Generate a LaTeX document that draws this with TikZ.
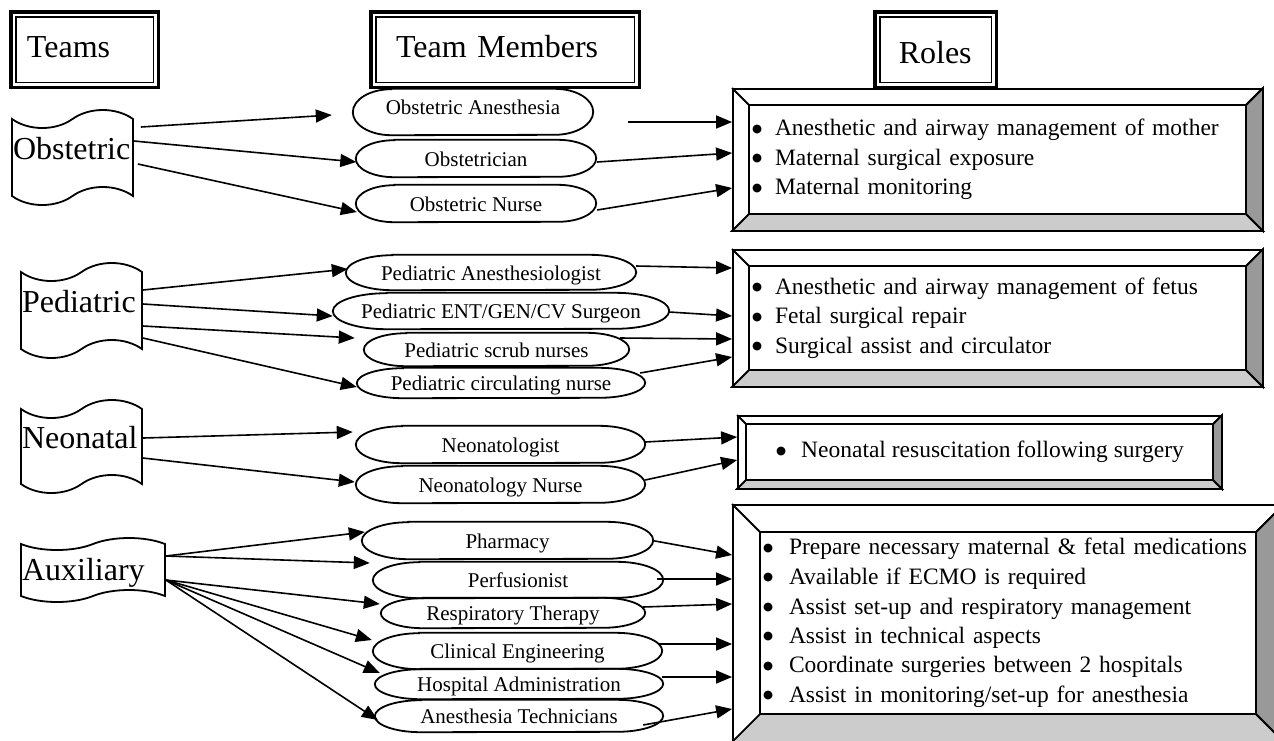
\documentclass[tikz,border=0pt]{standalone}
\usepackage{fontspec}
\setmainfont{Liberation Serif}
\newfontfamily\symfont{DejaVu Sans}
\usetikzlibrary{arrows.meta, calc, shapes.symbols}

\definecolor{bevellight}{HTML}{CCCCCC}
\definecolor{beveldark}{HTML}{999999}

\newcommand{\headfont}{\fontsize{32}{36}\selectfont}
\newcommand{\memberfont}{\fontsize{21}{24}\selectfont}
\newcommand{\rolefont}{\fontsize{23.5}{29.5}\selectfont}
\newcommand{\rolebullet}[1][24pt]{\makebox[#1][l]{\hspace{1pt}\raisebox{3.5pt}{\symfont\fontsize{11.5}{12}\selectfont ●}}}

\tikzset{
  arr/.style={-{Triangle[length=16pt,width=13pt]}, line width=1.6pt},
  outline/.style={line width=1.8pt},
  header/.style={draw, line width=3.5pt, minimum height=75.5pt, align=left,
    font=\headfont, text height=22pt, text depth=7pt,
    path picture={\draw[line width=1.5pt]
      ([shift={(5pt,5pt)}]path picture bounding box.south west) rectangle
      ([shift={(-5pt,-5pt)}]path picture bounding box.north east);}},
  team/.style={draw, shape=tape, line width=1.8pt, font=\headfont, align=left,
    inner xsep=1pt, text height=22pt, text depth=19pt, tape bend height=18pt},
  member/.style={inner sep=0pt, font=\memberfont, text height=15pt, text depth=0pt},
  role/.style={draw, line width=1.8pt, font=\rolefont, align=left, inner ysep=0pt},
}

% rounded "terminator" box: [options]{name}{centre}{width}{height}{text}
\newcommand{\member}[6][]{%
  \node[member, minimum width=#4pt, minimum height=#5pt, #1] (#2) at (#3) {#6};
  \draw[outline] ($(#2.north west)+({0.16*#4},0)$) -- ($(#2.north east)+({-0.16*#4},0)$)
    arc[start angle=90, end angle=-90, x radius={0.16*#4*1pt}, y radius={#5*0.5pt}]
    -- ($(#2.south west)+({0.16*#4},0)$)
    arc[start angle=270, end angle=90, x radius={0.16*#4*1pt}, y radius={#5*0.5pt}] -- cycle;
}

% bevel frame round a role box: {name}{bevel width}
\newcommand{\bevel}[2]{%
  \filldraw[outline, fill=bevellight] (#1.south west) -- (#1.south east)
    -- ($(#1.south east)+(-#2,-#2)$) -- ($(#1.south west)+(#2,-#2)$) -- cycle;
  \filldraw[outline, fill=beveldark] (#1.north east) -- (#1.south east)
    -- ($(#1.south east)+(-#2,-#2)$) -- ($(#1.north east)+(-#2,#2)$) -- cycle;
  \draw[outline] ($(#1.north west)+(#2,#2)$) rectangle ($(#1.south east)+(-#2,-#2)$);
  \draw[outline] (#1.north west) -- ++(#2,#2) (#1.north east) -- ++(-#2,#2);
}

\begin{document}
\begin{tikzpicture}[x=1pt, y=-1pt]
    \useasboundingbox (0,0) rectangle (1274,740);
    \fill[white] (0,0) rectangle (1274,740);
    \clip (0,0) rectangle (1274,740);

    % Column headings
    \node[header, text width=115pt, inner xsep=16.25pt] (teams) at (84.5,49.5) {Teams};
    \node[header, text width=218pt, inner xsep=25.25pt] (members) at (505,49.5) {Team Members};
    \node[header, text width=73.5pt, inner xsep=24pt, text height=27pt, text depth=0pt] (roles) at (935.5,49.5) {Roles};

    % Teams
    \node[team, text width=119pt, minimum height=95pt] (ob) at (72.5,157.5) {Obstetric};
    \node[team, text width=119pt, minimum height=95pt] (ped) at (81.5,310.5) {Pediatric};
    \node[team, text width=119pt, minimum height=93pt] (neo) at (81.5,446.5) {Neonatal};
    \node[team, text width=142pt, minimum height=64pt, tape bend height=12pt, text depth=2pt] (aux) at (93,570) {Auxiliary};

    % Team members
    \member[text depth=11pt]{oban}{473,112}{240}{46}{Obstetric Anesthesia}
    \member{obst}{476,158.5}{240}{37}{Obstetrician}
    \member{obnur}{476,203.5}{240}{37}{Obstetric Nurse}

    \member{pedan}{491,272.5}{290}{35}{Pediatric Anesthesiologist}
    \member{pedsur}{501,311}{336}{36}{Pediatric ENT/GEN/CV Surgeon}
    \member{pedscr}{496.5,349.5}{265}{33}{Pediatric scrub nurses}
    \member{pedcir}{501,383}{288}{30}{Pediatric circulating nurse}

    \member{neol}{500.5,444.5}{289}{37}{Neonatologist}
    \member{neon}{500.5,484.5}{289}{37}{Neonatology Nurse}

    \member{pharm}{507.5,540.5}{291}{37}{Pharmacy}
    \member{perf}{518,580}{290}{36}{Perfusionist}
    \member{resp}{513,613}{264}{30}{Respiratory Therapy}
    \member{clin}{517.5,651}{289}{36}{Clinical Engineering}
    \member{hosp}{519,684}{288}{30}{Hospital Administration}
    \member{antech}{519,716}{288}{32}{Anesthesia Technicians}

    % Roles
    \node[role, text width=493pt, inner xsep=18pt, minimum height=141pt] (rob) at (997.5,159.5)
        {\rolebullet Anesthetic and airway management of mother\\
         \rolebullet Maternal surgical exposure\\
         \rolebullet Maternal monitoring};
    \bevel{rob}{17}
    \node[role, text width=493pt, inner xsep=18pt, minimum height=136pt] (rped) at (997.5,318)
        {\rolebullet Anesthetic and airway management of fetus\\
         \rolebullet Fetal surgical repair\\
         \rolebullet Surgical assist and circulator};
    \bevel{rped}{17}
    \node[role, align=center, minimum width=483pt, minimum height=72pt] (rneo) at (979.5,452)
        {\rolebullet[26pt]Neonatal resuscitation following surgery};
    \bevel{rneo}{9}
    \node[role, text width=492pt, inner xsep=29pt, minimum height=236pt] (raux) at (1008,623)
        {\rolebullet[27pt]Prepare necessary maternal \& fetal medications\\
         \rolebullet[27pt]Available if ECMO is required\\
         \rolebullet[27pt]Assist set-up and respiratory management\\
         \rolebullet[27pt]Assist in technical aspects\\
         \rolebullet[27pt]Coordinate surgeries between 2 hospitals\\
         \rolebullet[27pt]Assist in monitoring/set-up for anesthesia};
    \bevel{raux}{28}

    % Obstetric team
    \draw[arr] ($(ob.east)+(7,-30.5)$) -- ($(oban.west)+(-21,3)$);
    \draw[arr] ($(ob.east)+(0,-16.5)$) -- ($(obst.west)+(0.5,3.5)$);
    \draw[arr] ($(ob.east)+(4,6.5)$) -- ($(obnur.west)+(1,8.5)$);
    \draw[arr] ($(oban.east)+(35,10)$) -- ($(rob.west)+(0,-37.5)$);
    \draw[arr] ($(obst.east)+(1,3.5)$) -- ($(rob.west)+(0,-6.5)$);
    \draw[arr] ($(obnur.east)+(1,6.5)$) -- ($(rob.west)+(0,28.5)$);

    % Pediatric team
    \draw[arr] ($(ped.east)+(0,-20.5)$) -- ($(pedan.west)+(2,-3.5)$);
    \draw[arr] ($(ped.east)+(0,-6.5)$) -- ($(pedsur.west)+(0,5)$);
    \draw[arr] ($(ped.east)+(0,15.5)$) -- ($(pedscr.west)+(-9,-11.5)$);
    \draw[arr] ($(ped.east)+(0,27.5)$) -- ($(pedcir.west)+(0,4)$);
    \draw[arr] ($(pedan.east)+(0,-6.5)$) -- ($(rped.west)+(0,-50)$);
    \draw[arr] ($(pedsur.east)+(0,1)$) -- ($(rped.west)+(0,-2)$);
    \draw[arr] ($(pedscr.east)+(-9,-11.5)$) -- ($(rped.west)+(0,21)$);
    \draw[arr] ($(pedcir.east)+(-5,-10)$) -- ($(rped.west)+(0,39)$);

    % Neonatal team
    \draw[arr] ($(neo.east)+(0,-8.5)$) -- ($(neol.west)+(-3,-12.5)$);
    \draw[arr] ($(neo.east)+(0,11.5)$) -- ($(neon.west)+(-1,-2.5)$);
    \draw[arr] ($(neol.east)+(0,-2.5)$) -- ($(rneo.west)+(0,-15)$);
    \draw[arr] ($(neon.east)+(0,-4.5)$) -- ($(rneo.west)+(0,8)$);

    % Auxiliary team
    \draw[arr] ($(aux.east)+(0,-14)$) -- ($(pharm.west)+(3,-8.5)$);
    \draw[arr] ($(aux.east)+(0,-14)$) -- ($(perf.west)+(-3,-17)$);
    \draw[arr] ($(aux.east)+(0,10)$) -- ($(resp.west)+(-1,-9)$);
    \draw[arr] ($(aux.east)+(0,10)$) -- ($(clin.west)+(-1,-11)$);
    \draw[arr] ($(aux.east)+(0,10)$) -- ($(hosp.west)+(5,-11)$);
    \draw[arr] ($(aux.east)+(0,10)$) -- ($(antech.west)+(3,4)$);
    \draw[arr] ($(pharm.east)+(-1,0)$) -- ($(raux.west)+(0,-68)$);
    \draw[arr] ($(perf.east)+(-6,-1)$) -- ($(raux.west)+(0,-44)$);
    \draw[arr] ($(resp.east)+(-2,-6)$) -- ($(raux.west)+(0,-19)$);
    \draw[arr] ($(clin.east)+(-4,-7)$) -- ($(raux.west)+(0,21)$);
    \draw[arr] ($(hosp.east)+(-1,-7)$) -- ($(raux.west)+(0,54)$);
    \draw[arr] ($(antech.east)+(-20,9)$) -- ($(raux.west)+(0,86)$);
\end{tikzpicture}
\end{document}
